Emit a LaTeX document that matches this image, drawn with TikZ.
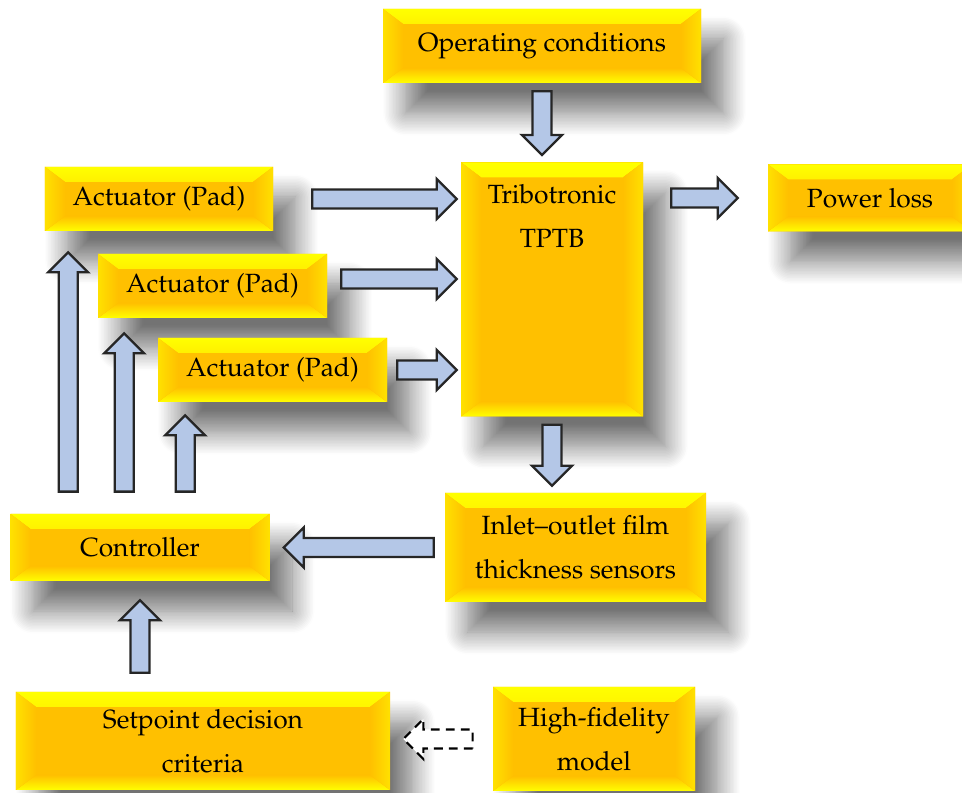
\documentclass[tikz,border=0pt]{standalone}
\usepackage[T1]{fontenc}
\usepackage{mathpazo}
\usepackage{tikz}
\usetikzlibrary{calc}
\usetikzlibrary{shadows.blur}
\pgfdeclarelayer{edgelayer}
\pgfdeclarelayer{nodelayer}
\pgfsetlayers{main,nodelayer,edgelayer}
\definecolor{bevgold}{HTML}{FFC000}
\definecolor{bevyellow}{HTML}{FFFF00}
\definecolor{bevside}{HTML}{FFE100}
\definecolor{flowblue}{HTML}{B4C7E7}
\newcommand{\bevw}{0.4cm}
\newcommand{\bevh}{0.3cm}
\newcommand{\shaftw}{0.19cm}
\newcommand{\headw}{0.4cm}
\newcommand{\headl}{0.4cm}
\newcommand{\bevelfill}{%
	\fill[top color=bevyellow,bottom color=bevgold] (path picture bounding box.north west) -- (path picture bounding box.north east) -- ([shift={(-\bevw,-\bevh)}]path picture bounding box.north east) -- ([shift={(\bevw,-\bevh)}]path picture bounding box.north west) -- cycle;
	\fill[top color=bevgold,bottom color=bevyellow] (path picture bounding box.south west) -- (path picture bounding box.south east) -- ([shift={(-\bevw,\bevh)}]path picture bounding box.south east) -- ([shift={(\bevw,\bevh)}]path picture bounding box.south west) -- cycle;
	\fill[left color=bevside,right color=bevgold] (path picture bounding box.north west) -- ([shift={(\bevw,-\bevh)}]path picture bounding box.north west) -- ([shift={(\bevw,\bevh)}]path picture bounding box.south west) -- (path picture bounding box.south west) -- cycle;
	\fill[left color=bevgold,right color=bevside] (path picture bounding box.north east) -- ([shift={(-\bevw,-\bevh)}]path picture bounding box.north east) -- ([shift={(-\bevw,\bevh)}]path picture bounding box.south east) -- (path picture bounding box.south east) -- cycle;
}
\newcommand{\flowarrow}[5][]{%
	\draw [style=flow,#1] let \p1=($(#2)!#4cm!(#3)$), \p2=($(#3)!#5cm!(#2)$),
		\n1={atan2(\y2-\y1,\x2-\x1)}, \n2={veclen(\x2-\x1,\y2-\y1)} in
		($(\p1)+(\n1+90:\shaftw)$) -- ($(\p1)+(\n1:\n2-\headl)+(\n1+90:\shaftw)$) -- ($(\p1)+(\n1:\n2-\headl)+(\n1+90:\headw)$) -- (\p2)
		-- ($(\p1)+(\n1:\n2-\headl)+(\n1-90:\headw)$) -- ($(\p1)+(\n1:\n2-\headl)+(\n1-90:\shaftw)$) -- ($(\p1)+(\n1-90:\shaftw)$) -- cycle;
}
\tikzstyle{bevelbox}=[rectangle,inner sep=0pt,align=center,fill=bevgold,text=black,font=\fontsize{15}{25}\selectfont,blur shadow={shadow xshift=0.45cm,shadow yshift=-0.6cm,shadow blur radius=0.45cm,shadow blur steps=16,shadow opacity=55},path picture={\bevelfill}]
\tikzstyle{flow}=[draw=black!85,fill=flowblue,line width=1.3pt,line join=miter]
\tikzstyle{model}=[draw=black,fill=white,line width=1.2pt,dash pattern=on 5pt off 3.5pt,line join=miter]

\begin{document}
\begin{tikzpicture}
	\useasboundingbox (0,0) rectangle (19.24,-15.86);
	\begin{pgfonlayer}{nodelayer}
		\node [style=bevelbox,minimum width=6.36cm,minimum height=1.48cm] (opcond) at (10.840,-0.920) {Operating conditions};
		\node [style=bevelbox,anchor=north,text width=3.64cm,text height=0.82cm,text depth=4.26cm] (tptb) at (11.040,-3.240) {Tribotronic\\TPTB};
		\node [style=bevelbox,minimum width=4.08cm,minimum height=1.34cm] (power) at (17.400,-3.960) {Power loss};
		\node [style=bevelbox,minimum width=4.56cm,minimum height=1.28cm] (act1) at (3.180,-3.980) {Actuator (Pad)};
		\node [style=bevelbox,minimum width=4.58cm,minimum height=1.28cm] (act2) at (4.250,-5.720) {Actuator (Pad)};
		\node [style=bevelbox,minimum width=4.58cm,minimum height=1.28cm] (act3) at (5.450,-7.400) {Actuator (Pad)};
		\node [style=bevelbox,minimum width=5.18cm,minimum height=1.34cm] (ctrl) at (2.800,-10.950) {Controller};
		\node [style=bevelbox,minimum width=5.22cm,minimum height=2.18cm] (sens) at (11.510,-10.950) {Inlet--outlet film\\thickness sensors};
		\node [style=bevelbox,minimum width=7.48cm,minimum height=1.96cm] (setp) at (4.060,-14.820) {Setpoint decision\\criteria};
		\node [style=bevelbox,minimum width=4.04cm,minimum height=2.08cm] (hifi) at (11.880,-14.780) {High-fidelity\\model};
	\end{pgfonlayer}
	\begin{pgfonlayer}{edgelayer}
		\coordinate (up1) at ($(ctrl.north west)+(1.16,0)$);
		\coordinate (up2) at ($(ctrl.north west)+(2.28,0)$);
		\coordinate (up3) at ($(ctrl.north west)+(3.50,0)$);
		\coordinate (pad2) at ($(act2.east)+(0,0.14)$);
		\flowarrow{opcond.south}{opcond.south |- tptb.north}{0.16}{0.14}
		\flowarrow{act1.east}{tptb.west |- act1.east}{0.78}{0.08}
		\flowarrow{pad2}{tptb.west |- pad2}{0.28}{0.08}
		\flowarrow{act3.east}{tptb.west |- act3.east}{0.20}{0.08}
		\flowarrow{tptb.east |- power.west}{power.west}{0.56}{0.60}
		\flowarrow{tptb.south}{tptb.south |- sens.north}{0.16}{0.14}
		\flowarrow{sens.west}{ctrl.east |- sens.west}{0.22}{0.28}
		\flowarrow{ctrl.south |- setp.north}{ctrl.south}{0.38}{0.38}
		\flowarrow{up1}{up1 |- act1.south}{0.44}{0.42}
		\flowarrow{up2}{up2 |- act2.south}{0.44}{0.30}
		\flowarrow{up3}{up3 |- act3.south}{0.44}{0.26}
		\flowarrow[style=model]{hifi.west}{setp.east |- hifi.west}{0.40}{0.26}
	\end{pgfonlayer}
\end{tikzpicture}
\end{document}
